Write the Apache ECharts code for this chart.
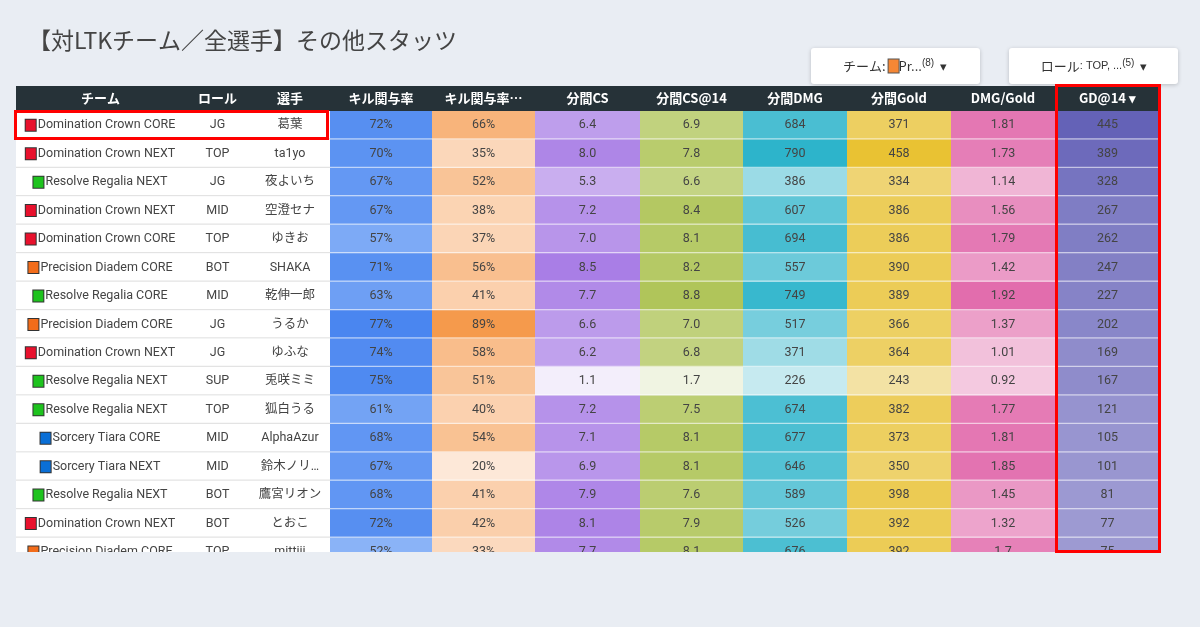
<!DOCTYPE html>
<html><head><meta charset="utf-8">
<script src="https://cdn.jsdelivr.net/npm/echarts@6/dist/echarts.min.js"></script>
<style>html,body{margin:0;padding:0;background:#e9edf3}#c{width:1200px;height:627px}</style>
</head><body><div id="c"></div>
<script>
const headers = ['チーム','ロール','選手','キル関与率','キル関与率…','分間CS','分間CS@14','分間DMG','分間Gold','DMG/Gold','GD@14 ▾'];
const teams = ['Domination Crown CORE','Domination Crown NEXT','Resolve Regalia NEXT','Domination Crown NEXT','Domination Crown CORE','Precision Diadem CORE','Resolve Regalia CORE','Precision Diadem CORE','Domination Crown NEXT','Resolve Regalia NEXT','Resolve Regalia NEXT','Sorcery Tiara CORE','Sorcery Tiara NEXT','Resolve Regalia NEXT','Domination Crown NEXT','Precision Diadem CORE'];
const roles = ['JG','TOP','JG','MID','TOP','BOT','MID','JG','JG','SUP','TOP','MID','MID','BOT','BOT','TOP'];
const players = ['葛葉','ta1yo','夜よいち','空澄セナ','ゆきお','SHAKA','乾伸一郎','うるか','ゆふな','兎咲ミミ','狐白うる','AlphaAzur','鈴木ノリ…','鷹宮リオン','とおこ','mittiii'];
const killRate = [72,70,67,67,57,71,63,77,74,75,61,68,67,68,72,52];
const killShare = [66,35,52,38,37,56,41,89,58,51,40,54,20,41,42,33];
const csPerMin = [6.4,8.0,5.3,7.2,7.0,8.5,7.7,6.6,6.2,1.1,7.2,7.1,6.9,7.9,8.1,7.7];
const cs14 = [6.9,7.8,6.6,8.4,8.1,8.2,8.8,7.0,6.8,1.7,7.5,8.1,8.1,7.6,7.9,8.1];
const dmgPerMin = [684,790,386,607,694,557,749,517,371,226,674,677,646,589,526,676];
const goldPerMin = [371,458,334,386,386,390,389,366,364,243,382,373,350,398,392,392];
const dmgGold = [1.81,1.73,1.14,1.56,1.79,1.42,1.92,1.37,1.01,0.92,1.77,1.81,1.85,1.45,1.32,1.7];
const gd14 = [445,389,328,267,262,247,227,202,169,167,121,105,101,81,77,75];

const teamColor = {'Domination':'#e8112d','Resolve':'#1ec31e','Precision':'#f26c1a','Sorcery':'#0a6fd6'};
const numCols = [
  {v:killRate, f:x=>x+'%', c:['#8ab3f7','#4a86f0']},
  {v:killShare, f:x=>x+'%', c:['#fde8d8','#f59a4c']},
  {v:csPerMin, f:x=>x.toFixed(1), c:['#f3eefb','#a97ee6']},
  {v:cs14, f:x=>x.toFixed(1), c:['#f0f4e2','#b0c55a']},
  {v:dmgPerMin, f:x=>String(x), c:['#c6eaf0','#2db4cb']},
  {v:goldPerMin, f:x=>String(x), c:['#f3e2a4','#e9c233']},
  {v:dmgGold, f:x=>String(x), c:['#f4c9e0','#e26dad']},
  {v:gd14, f:x=>String(x), c:['#9d9ad2','#6462b7']}
];
const edges = [0,169,234,314,416,519,624,727,831,935,1039,1144];
const ROWH = 28.45;
const FONT = 'Roboto, "Noto Sans CJK JP", sans-serif';

const cells = [];
for (let r=0;r<teams.length;r++){
  cells.push([0,r,'team',teams[r]]);
  cells.push([1,r,'txt',roles[r]]);
  cells.push([2,r,'txt',players[r]]);
  numCols.forEach((col,i)=>{
    const mn=Math.min(...col.v), mx=Math.max(...col.v);
    const t=(col.v[r]-mn)/(mx-mn);
    cells.push([3+i,r,echarts.color.lerp(t,col.c),col.f(col.v[r])]);
  });
}

const chart = echarts.init(document.getElementById('c'));
const hdrGraphics = headers.map((h,i)=>({type:'text',
  style:{text:h,fill:'#fff',font:'bold 13px "Noto Sans CJK JP", sans-serif',align:'center',verticalAlign:'middle'},
  x:16+(edges[i]+edges[i+1])/2, y:98.5, z:10}));

chart.setOption({
  backgroundColor:'#e9edf3',
  animation:false,
  grid:{left:16,top:111,width:1144,height:ROWH*16},
  xAxis:{type:'value',min:0,max:1144,show:false},
  yAxis:{type:'value',min:0,max:16,inverse:true,show:false},
  series:[{
    type:'custom',clip:true,data:cells,
    renderItem:(p,api)=>{
      const c=api.value(0), r=api.value(1);
      const d=cells[p.dataIndex];
      const a=api.coord([edges[c],r]), b=api.coord([edges[c+1],r+1]);
      const w=b[0]-a[0], h=b[1]-a[1];
      const isTxt = d[2]==='team'||d[2]==='txt';
      const kids=[
        {type:'rect',shape:{x:a[0],y:a[1],width:w,height:h},style:{fill:isTxt?'#fff':d[2]}},
        {type:'line',shape:{x1:a[0],y1:b[1]-0.5,x2:b[0],y2:b[1]-0.5},style:{stroke:isTxt?'#e3e3e3':'rgba(255,255,255,0.6)',lineWidth:1.5}}
      ];
      if(d[2]==='team'){
        const col=teamColor[d[3].split(' ')[0]];
        kids.push({type:'text',x:a[0]+w/2,y:a[1]+h/2,style:{text:'{sq|}{t|'+d[3]+'}',align:'center',verticalAlign:'middle',
          rich:{sq:{width:10,height:11,backgroundColor:col,borderColor:'#333',borderWidth:1},
                t:{fill:'#444',fontSize:12.5,fontFamily:FONT,padding:[0,0,0,2]}}}});
      } else {
        kids.push({type:'text',x:a[0]+w/2,y:a[1]+h/2,style:{text:d[3],align:'center',verticalAlign:'middle',fill:'#444',
          fontSize:12.5,fontFamily:FONT}});
      }
      return {type:'group',children:kids};
    }
  }],
  graphic:[
    {type:'text',x:28,y:40,style:{text:'【対LTKチーム／全選手】その他スタッツ',fill:'#444',font:'23px "Noto Sans CJK JP", sans-serif',verticalAlign:'middle'}},
    {type:'rect',shape:{x:811,y:48,width:169,height:36,r:3},style:{fill:'#fff',shadowBlur:4,shadowColor:'rgba(0,0,0,0.2)',shadowOffsetY:1}},
    {type:'text',x:895,y:66,style:{text:'{a|チーム: }{sq|}{a|Pr...}{s|(8)}{a|  ▾}',align:'center',verticalAlign:'middle',
      rich:{a:{fontSize:13,fill:'#333',fontFamily:'"Noto Sans CJK JP",sans-serif'},s:{fontSize:10,fill:'#333',padding:[0,0,6,0]},
      sq:{width:10,height:13,backgroundColor:'#f58735',borderColor:'#555',borderWidth:1}}}},
    {type:'rect',shape:{x:1009,y:48,width:169,height:36,r:3},style:{fill:'#fff',shadowBlur:4,shadowColor:'rgba(0,0,0,0.2)',shadowOffsetY:1}},
    {type:'text',x:1094,y:66,style:{text:'{a|ロール}{b|: TOP, ...}{s|(5)}{a|  ▾}',align:'center',verticalAlign:'middle',
      rich:{a:{fontSize:13,fill:'#333',fontFamily:'"Noto Sans CJK JP",sans-serif'},b:{fontSize:11,fill:'#333'},s:{fontSize:10,fill:'#333',padding:[0,0,6,0]}}}},
    {type:'rect',shape:{x:16,y:86,width:1144,height:25},style:{fill:'#263238'},z:5},
    ...hdrGraphics,
    {type:'rect',shape:{x:0,y:552,width:1200,height:75},style:{fill:'#e9edf3'},z:20},
    {type:'rect',shape:{x:15.5,y:111.5,width:312,height:27},style:{fill:'none',stroke:'#f00',lineWidth:3},z:30},
    {type:'rect',shape:{x:1056.5,y:85.5,width:103,height:466},style:{fill:'none',stroke:'#f00',lineWidth:3},z:30}
  ]
});
</script></body></html>
